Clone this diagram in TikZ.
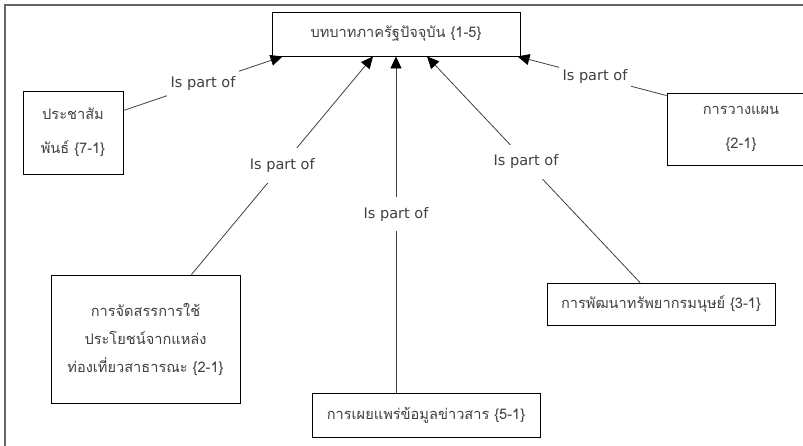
\documentclass[tikz,border=0pt]{standalone}
\usepackage{fontspec}
\setmainfont[Script=Thai]{Loma}
\newfontfamily\latinfont{DejaVu Sans}
\usetikzlibrary{arrows.meta}
\definecolor{inkgray}{HTML}{404040}
\tikzstyle{topic}=[draw=black,line width=0.9pt,fill=white,text=inkgray,align=center,inner sep=0pt,font=\fontsize{14.6}{34}\selectfont]
\tikzstyle{edge}=[draw=inkgray,line width=0.8pt,-{Triangle[length=12pt,width=11pt,black]}]
\tikzstyle{rel}=[fill=white,text=inkgray,inner xsep=4pt,inner ysep=10pt,font=\latinfont\fontsize{14.5}{18}\selectfont]

\begin{document}
\begin{tikzpicture}[x=1pt,y=-1pt]
    \useasboundingbox (0,0) rectangle (803,446);
    \clip (0,0) rectangle (803,446);
    % frame
    \draw[gray!80!black,line width=1.6pt] (5,446) -- (5,5) -- (803,5);

    \node[topic,minimum width=248,minimum height=44] (role) at (396,34) {บทบาทภาครัฐปัจจุบัน \{1-5\}};
    \node[topic,minimum width=100,minimum height=83] (pr) at (73,132.5) {ประชาสัม\\พันธ์ \{7-1\}};
    \node[topic,minimum width=148,minimum height=72] (plan) at (741,129) {การวางแผน\\\{2-1\}};
    \node[topic,minimum width=189,minimum height=128,font=\fontsize{14.6}{28}\selectfont] (pub) at (145.5,339) {การจัดสรรการใช้\\ประโยชน์จากแหล่ง\\ท่องเที่ยวสาธารณะ \{2-1\}};
    \node[topic,minimum width=228,minimum height=44] (news) at (426,415) {การเผยแพร่ข้อมูลข่าวสาร \{5-1\}};
    \node[topic,minimum width=228,minimum height=42] (hr) at (661,304) {การพัฒนาทรัพยากรมนุษย์ \{3-1\}};

    % attachment points
    \coordinate (pr-e) at ([yshift=22pt]pr.east);
    \coordinate (plan-w) at ([yshift=-3pt]plan.north west);
    \coordinate (pub-n) at ([xshift=46pt]pub.north);
    \coordinate (news-n) at ([xshift=-30pt]news.north);
    \coordinate (hr-n) at ([xshift=-21pt]hr.north);
    \coordinate (role-a) at ([xshift=11pt]role.south west);
    \coordinate (role-b) at ([xshift=-23pt]role.south);
    \coordinate (role-c) at (role.south);
    \coordinate (role-d) at ([xshift=31pt]role.south);
    \coordinate (role-e) at ([xshift=-3pt]role.south east);

    \foreach \source/\dest/\p in {pr-e/role-a/0.5, pub-n/role-b/0.5, news-n/role-c/0.53,
                                  hr-n/role-d/0.535, plan-w/role-e/0.48}
        \path[edge] (\source) -- node[rel,pos=\p] {Is part of} (\dest);
\end{tikzpicture}
\end{document}
